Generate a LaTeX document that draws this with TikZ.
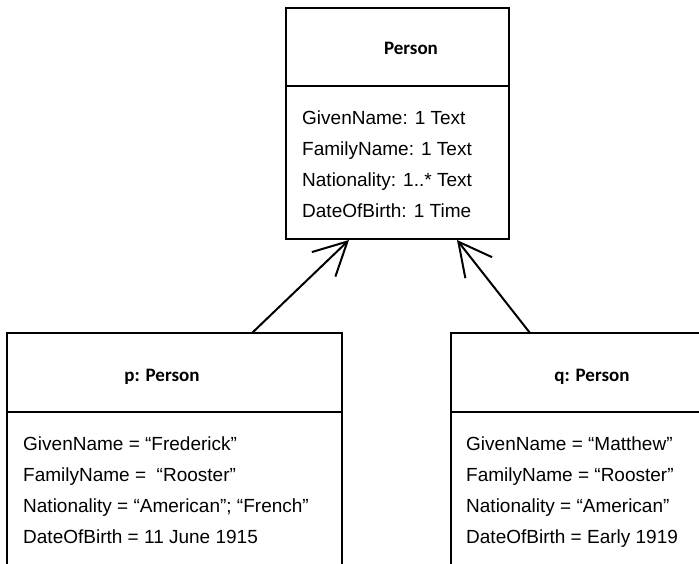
\documentclass[tikz,border=0pt]{standalone}
\usepackage{fontspec}
\setmainfont{Liberation Sans}
\newfontfamily\titlefont{Carlito}
\usetikzlibrary{arrows.meta}

\begin{document}
\begin{tikzpicture}[x=1pt, y=-1pt,
  classbox/.style={draw, line width=2pt, rectangle, inner sep=0pt},
  divider/.style={line width=2pt},
  classtitle/.style={anchor=base, inner sep=0pt, font=\titlefont\bfseries\fontsize{19}{22}\selectfont},
  attr/.style={anchor=base west, inner sep=0pt, font=\fontsize{19}{22}\selectfont},
  generalize/.style={line width=2pt, -{Straight Barb[length=33pt, width=34pt, line width=2pt]}}
]
\useasboundingbox (0,0) rectangle (699,564);
\clip (0,0) rectangle (699,564);

% class Person
\node[classbox, minimum width=223pt, minimum height=231pt] (person) at (397.5,123.5) {};
\draw[divider] (286,86) -- (509,86);
\node[classtitle] (personTitle) at (411,55) {Person};
\node[attr] (pa1) at (302,125) {GivenName: 1 Text};
\node[attr] (pa2) at (302,156) {FamilyName: 1 Text};
\node[attr] (pa3) at (302,187) {Nationality: 1..* Text};
\node[attr] (pa4) at (302,218) {DateOfBirth: 1 Time};

% instance p
\node[classbox, minimum width=335pt, minimum height=280pt] (p) at (174.5,473) {};
\draw[divider] (7,412) -- (342,412);
\node[classtitle] (pTitle) at (162,381) {p: Person};
\node[attr] (p1) at (23,450) {GivenName = “Frederick”};
\node[attr] (p2) at (23,481) {FamilyName =\ \ “Rooster”};
\node[attr] (p3) at (23,512) {Nationality = “American”; “French”};
\node[attr] (p4) at (23,543) {DateOfBirth = 11 June 1915};

% instance q
\node[classbox, minimum width=320pt, minimum height=280pt] (q) at (611,473) {};
\draw[divider] (451,412) -- (771,412);
\node[classtitle] (qTitle) at (592,381) {q: Person};
\node[attr] (q1) at (466,450) {GivenName = “Matthew”};
\node[attr] (q2) at (466,481) {FamilyName = “Rooster”};
\node[attr] (q3) at (466,512) {Nationality = “American”};
\node[attr] (q4) at (466,543) {DateOfBirth = Early 1919};

% instance-of connectors
\coordinate (pTop) at (252,333);
\coordinate (qTop) at (530,333);
\coordinate (personL) at (349,240);
\coordinate (personR) at (457,240);
\draw[generalize] (pTop) -- (personL);
\draw[generalize] (qTop) -- (personR);
\end{tikzpicture}
\end{document}
